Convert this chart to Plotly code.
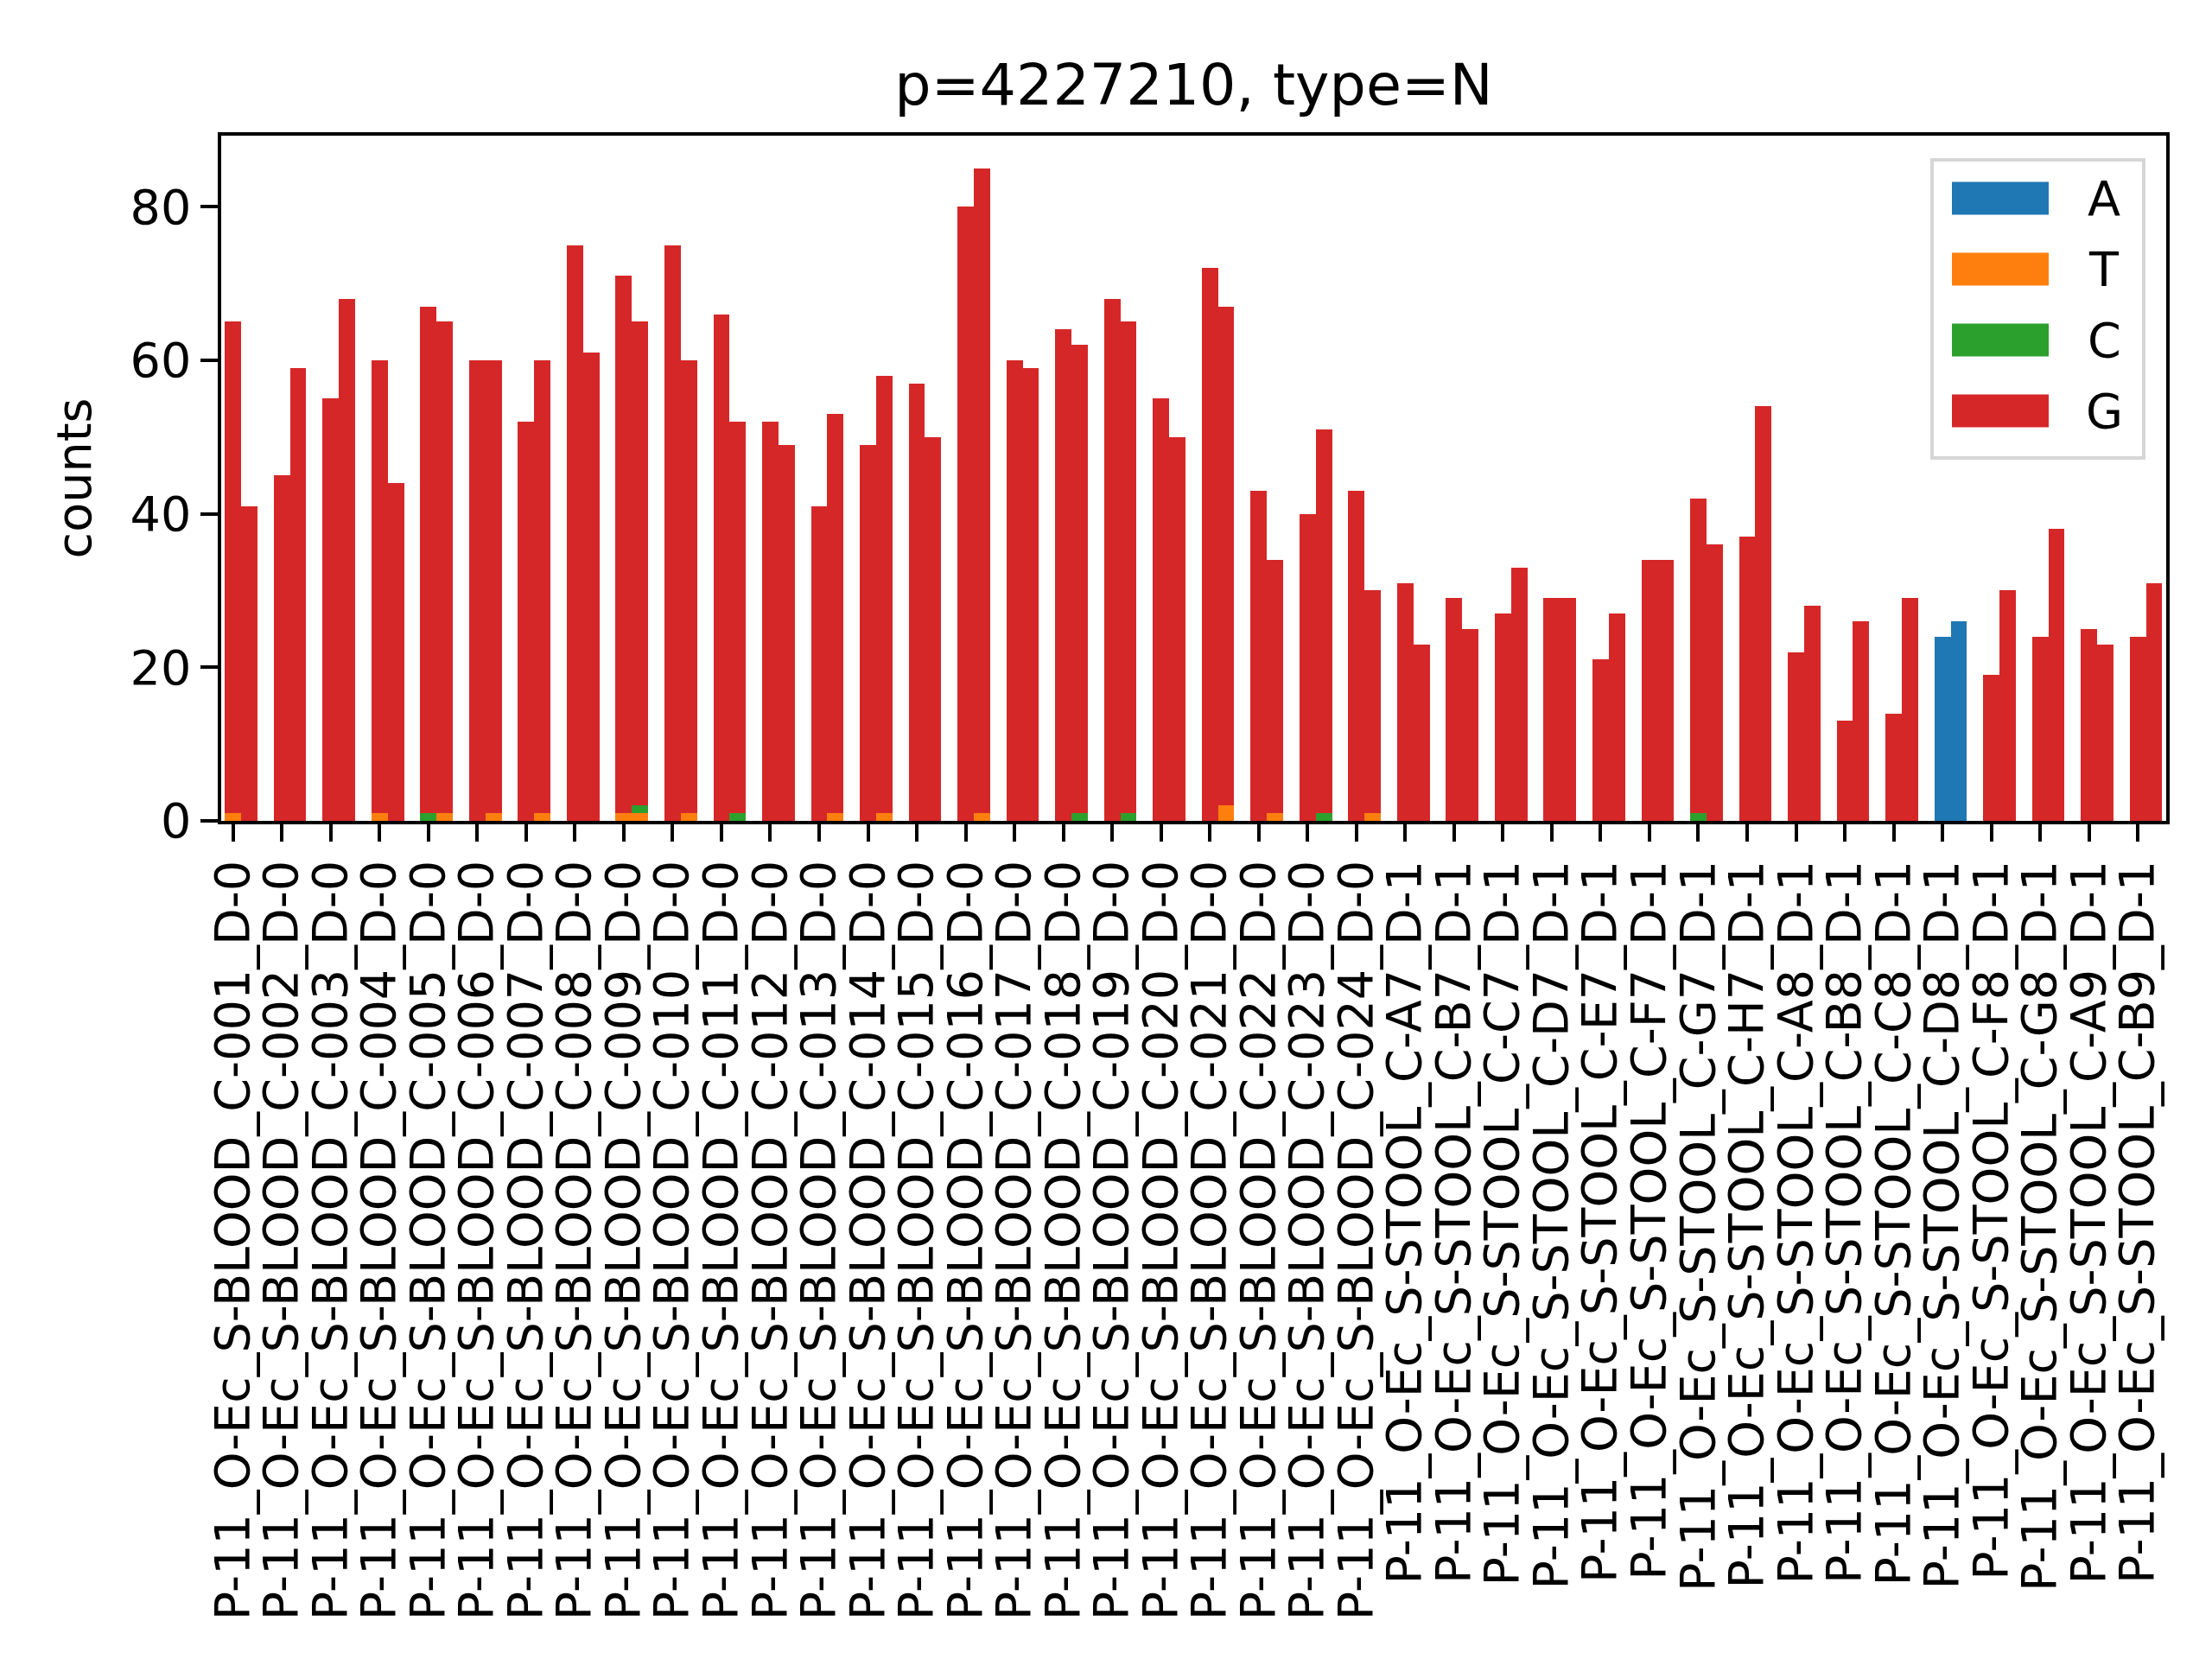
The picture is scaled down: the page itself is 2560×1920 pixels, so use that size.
import plotly.graph_objects as go

# --- data -------------------------------------------------------------
SAMPLES = [f"P-11_O-Ec_S-BLOOD_C-{i:03d}_D-0" for i in range(1, 25)] + [
    "P-11_O-Ec_S-STOOL_C-A7_D-1", "P-11_O-Ec_S-STOOL_C-B7_D-1",
    "P-11_O-Ec_S-STOOL_C-C7_D-1", "P-11_O-Ec_S-STOOL_C-D7_D-1",
    "P-11_O-Ec_S-STOOL_C-E7_D-1", "P-11_O-Ec_S-STOOL_C-F7_D-1",
    "P-11_O-Ec_S-STOOL_C-G7_D-1", "P-11_O-Ec_S-STOOL_C-H7_D-1",
    "P-11_O-Ec_S-STOOL_C-A8_D-1", "P-11_O-Ec_S-STOOL_C-B8_D-1",
    "P-11_O-Ec_S-STOOL_C-C8_D-1", "P-11_O-Ec_S-STOOL_C-D8_D-1",
    "P-11_O-Ec_S-STOOL_C-F8_D-1", "P-11_O-Ec_S-STOOL_C-G8_D-1",
    "P-11_O-Ec_S-STOOL_C-A9_D-1", "P-11_O-Ec_S-STOOL_C-B9_D-1",
]

# first bar of each sample
A_1 = [0] * 35 + [24] + [0] * 4
T_1 = [1, 0, 0, 1, 0, 0, 0, 0, 1] + [0] * 31
C_1 = [0, 0, 0, 0, 1] + [0] * 25 + [1] + [0] * 9
G_1 = [64, 45, 55, 59, 66, 60, 52, 75, 70, 75, 66, 52, 41, 49, 57, 80, 60, 64, 68, 55,
       72, 43, 40, 43, 31, 29, 27, 29, 21, 34, 41, 37, 22, 13, 14, 0, 19, 24, 25, 24]

# second bar of each sample
A_2 = [0] * 35 + [26] + [0] * 4
T_2 = [0, 0, 0, 0, 1, 1, 1, 0, 1, 1, 0, 0, 1, 1, 0, 1, 0, 0, 0, 0,
       2, 1, 0, 1] + [0] * 16
C_2 = [0, 0, 0, 0, 0, 0, 0, 0, 1, 0, 1, 0, 0, 0, 0, 0, 0, 1, 1, 0,
       0, 0, 1, 0] + [0] * 16
G_2 = [41, 59, 68, 44, 64, 59, 59, 61, 63, 59, 51, 49, 52, 57, 50, 84, 59, 61, 64, 50,
       65, 33, 50, 29, 23, 25, 33, 29, 27, 34, 36, 54, 28, 26, 29, 0, 30, 38, 23, 31]

LETTERS = ["A", "T", "C", "G"]
COLORS = ["#1f77b4", "#ff7f0e", "#2ca02c", "#d62728"]
SERIES = {"A": (A_1, A_2), "T": (T_1, T_2), "C": (C_1, C_2), "G": (G_1, G_2)}

TITLE = "p=4227210, type=N"

# --- figure -----------------------------------------------------------
W, H = 2560, 1920
ML, MR, MT, MB = 248, 61, 149, 978
FONT = "DejaVu Sans"
BW = 1 / 3  # bar width

n = len(SAMPLES)
x1 = list(range(n))
x2 = [i + BW for i in range(n)]

fig = go.Figure()
for letter, color in zip(LETTERS, COLORS):
    first, second = SERIES[letter]
    fig.add_trace(go.Bar(
        x=x1 + x2, y=first + second, width=BW, name=letter,
        marker=dict(color=color, line=dict(width=0)), showlegend=False,
    ))

# legend drawn by hand so the patches look like matplotlib's
pw, ph = W - ML - MR, H - MT - MB
def px(x):
    return (x - ML) / pw
def py(y):
    return (H - MB - y) / ph

fig.add_shape(type="rect", xref="paper", yref="paper",
              x0=px(2228), x1=px(2473), y0=py(522), y1=py(177),
              line=dict(color="#d6d6d6", width=4), fillcolor="rgba(255,255,255,0.8)")
for k, (letter, color) in enumerate(zip(LETTERS, COLORS)):
    yc = 221.6 + 82 * k
    fig.add_shape(type="rect", xref="paper", yref="paper",
                  x0=px(2251), x1=px(2363), y0=py(yc + 19), y1=py(yc - 19),
                  line=dict(width=0), fillcolor=color)
    fig.add_annotation(xref="paper", yref="paper", x=px(2427), y=py(yc),
                       text=letter, showarrow=False, xanchor="center", yanchor="middle",
                       font=dict(family=FONT, size=55.6, color="black"))

fig.update_layout(
    width=W, height=H, autosize=False,
    margin=dict(l=ML, r=MR, t=MT, b=MB, autoexpand=False),
    plot_bgcolor="white", paper_bgcolor="white",
    barmode="stack",
    font=dict(family=FONT, size=55.6, color="black"),
    title=dict(text=TITLE, x=0.5, xref="paper", xanchor="center",
               y=1, yref="paper", yanchor="bottom", pad=dict(b=36),
               font=dict(family=FONT, size=66.7, color="black")),
    xaxis=dict(
        range=[-BW / 2 - 0.075, n - 1 + 1.5 * BW + 0.08],
        tickmode="array", tickvals=x1, ticktext=SAMPLES, tickangle=-90,
        ticks="outside", ticklen=19.4, tickwidth=4.4, tickcolor="black",
        showline=True, mirror=True, linewidth=4.4, linecolor="black",
        showgrid=False, zeroline=False, automargin=False,
        tickfont=dict(family=FONT, size=55.6, color="black"),
    ),
    yaxis=dict(
        range=[0, 89.25], tickvals=[0, 20, 40, 60, 80],
        ticks="outside", ticklen=19.4, tickwidth=4.4, tickcolor="black",
        showline=True, mirror=True, linewidth=4.4, linecolor="black",
        showgrid=False, zeroline=False, automargin=False,
        tickfont=dict(family=FONT, size=55.6, color="black"),
        title=dict(text="counts", standoff=28,
                   font=dict(family=FONT, size=55.6, color="black")),
    ),
)

fig.write_html("out.html")
